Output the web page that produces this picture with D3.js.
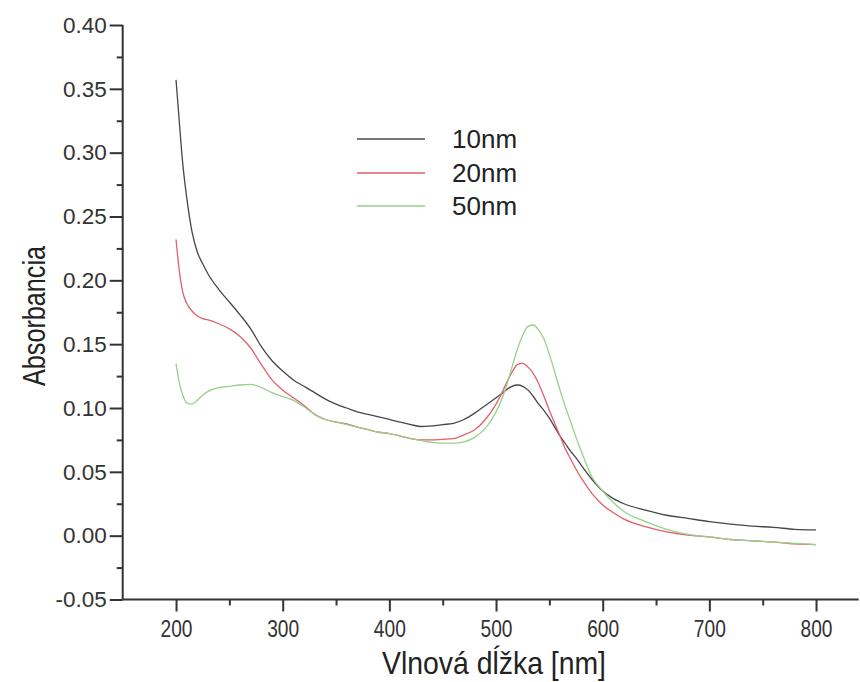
<!DOCTYPE html>
<html>
<head>
<meta charset="utf-8">
<script src="https://cdn.jsdelivr.net/npm/d3@7"></script>
<style>
  html, body { margin: 0; padding: 0; background: #fff; }
  svg { display: block; }
  .axis path, .axis line { stroke: #333; stroke-width: 2; }
  .axis text { fill: #333; font-family: "Liberation Sans", Arial, sans-serif; }
</style>
</head>
<body>
<svg id="chart" width="860" height="682"></svg>
<script>
// ---- data ----
const wavelengths = [200,203,206,210,215,220,225,230,240,250,260,270,280,290,300,310,320,330,340,350,360,370,380,390,400,410,420,430,440,450,460,470,480,490,500,505,510,515,520,525,530,535,540,545,550,555,560,565,570,575,580,590,600,610,620,640,660,680,700,720,740,760,780,800];

const abs10nm = [0.357,0.325,0.294,0.265,0.238,0.222,0.213,0.205,0.193,0.183,0.173,0.162,0.148,0.137,0.129,0.122,0.117,0.112,0.107,0.103,0.100,0.097,0.095,0.093,0.091,0.089,0.087,0.0855,0.086,0.087,0.088,0.091,0.096,0.102,0.108,0.111,0.1145,0.117,0.118,0.117,0.114,0.109,0.103,0.098,0.092,0.085,0.078,0.072,0.066,0.061,0.055,0.044,0.035,0.029,0.025,0.020,0.016,0.0135,0.011,0.009,0.0075,0.0065,0.005,0.0045];

const abs20nm = [0.232,0.208,0.192,0.182,0.176,0.172,0.170,0.169,0.166,0.162,0.156,0.147,0.134,0.122,0.114,0.108,0.102,0.095,0.091,0.089,0.0876,0.085,0.083,0.081,0.080,0.078,0.076,0.075,0.075,0.0755,0.076,0.079,0.083,0.091,0.103,0.111,0.120,0.128,0.134,0.135,0.132,0.127,0.119,0.109,0.098,0.088,0.078,0.068,0.060,0.052,0.045,0.033,0.024,0.018,0.013,0.007,0.003,0.0005,-0.001,-0.003,-0.004,-0.005,-0.0065,-0.007];

const abs50nm = [0.135,0.120,0.111,0.104,0.103,0.106,0.110,0.113,0.116,0.117,0.118,0.1185,0.116,0.112,0.109,0.106,0.101,0.095,0.091,0.089,0.087,0.085,0.083,0.081,0.080,0.078,0.076,0.0745,0.073,0.0725,0.0725,0.0735,0.077,0.084,0.097,0.106,0.118,0.132,0.146,0.157,0.164,0.165,0.161,0.154,0.142,0.128,0.114,0.101,0.089,0.077,0.066,0.046,0.035,0.026,0.019,0.011,0.005,0.001,-0.001,-0.003,-0.004,-0.005,-0.006,-0.007];

const seriesNames = ["10nm", "20nm", "50nm"];
const seriesColors = ["#474747", "#e2606a", "#98d08a"];

const xMajorTicks = [200,300,400,500,600,700,800];
const xMinorTicks = [250,350,450,550,650,750];
const yMajorTicks = [-0.05,0.00,0.05,0.10,0.15,0.20,0.25,0.30,0.35,0.40];
const yTickLabels = ["-0.05","0.00","0.05","0.10","0.15","0.20","0.25","0.30","0.35","0.40"];
const yMinorTicks = [-0.025,0.025,0.075,0.125,0.175,0.225,0.275,0.325,0.375];

const xTitle = "Vlnová dĺžka [nm]";
const yTitle = "Absorbancia";

// ---- chart ----
const svg = d3.select("#chart");
const x = d3.scaleLinear().domain([150, 840]).range([122.7, 858.7]);
const y = d3.scaleLinear().domain([-0.05, 0.40]).range([599.5, 25]);

// lines
const allSeries = [abs10nm, abs20nm, abs50nm];
const line = d3.line()
  .x(d => x(d[0]))
  .y(d => y(d[1]))
  .curve(d3.curveMonotoneX);

allSeries.forEach((vals, i) => {
  svg.append("path")
    .datum(wavelengths.map((w, j) => [w, vals[j]]))
    .attr("fill", "none")
    .attr("stroke", seriesColors[i])
    .attr("stroke-width", 1.3)
    .attr("d", line);
});

// axes
const yAxis = svg.append("g").attr("class", "axis")
  .attr("transform", `translate(${x.range()[0]},0)`)
  .call(d3.axisLeft(y).tickValues(yMajorTicks).tickSize(13).tickPadding(3)
    .tickFormat((d, i) => yTickLabels[i]));
yAxis.selectAll("text").style("font-size", "22.5px");
yAxis.select(".domain").attr("d", `M0,${y.range()[1]}V${y.range()[0]}`);

const yMinor = svg.append("g").attr("class", "axis")
  .attr("transform", `translate(${x.range()[0]},0)`)
  .call(d3.axisLeft(y).tickValues(yMinorTicks).tickSize(6).tickFormat(""));
yMinor.select(".domain").remove();

const xAxis = svg.append("g").attr("class", "axis")
  .attr("transform", `translate(0,${y.range()[0]})`)
  .call(d3.axisBottom(x).tickValues(xMajorTicks).tickSize(12).tickPadding(8)
    .tickFormat(d3.format("d")));
xAxis.selectAll("text").style("font-size", "24px")
  .attr("textLength", 32).attr("lengthAdjust", "spacingAndGlyphs");
xAxis.select(".domain").attr("d", `M${x.range()[0]},0H${x.range()[1]}`);

const xMinor = svg.append("g").attr("class", "axis")
  .attr("transform", `translate(0,${y.range()[0]})`)
  .call(d3.axisBottom(x).tickValues(xMinorTicks).tickSize(6).tickFormat(""));
xMinor.select(".domain").remove();

// titles
svg.append("text")
  .attr("x", 494).attr("y", 674)
  .attr("text-anchor", "middle")
  .attr("textLength", 224).attr("lengthAdjust", "spacingAndGlyphs")
  .style("font-family", "'Liberation Sans Narrow', 'Liberation Sans', Arial, sans-serif")
  .style("font-size", "32px").style("fill", "#222")
  .text(xTitle);

svg.append("text")
  .attr("transform", "translate(45,316) rotate(-90)")
  .attr("text-anchor", "middle")
  .attr("textLength", 140).attr("lengthAdjust", "spacingAndGlyphs")
  .style("font-family", "'Liberation Sans Narrow', 'Liberation Sans', Arial, sans-serif")
  .style("font-size", "32px").style("fill", "#222")
  .text(yTitle);

// legend
const legendY = [139, 173, 206];
seriesNames.forEach((name, i) => {
  svg.append("line")
    .attr("x1", 357).attr("x2", 425)
    .attr("y1", legendY[i]).attr("y2", legendY[i])
    .attr("stroke", seriesColors[i]).attr("stroke-width", 1.3);
  svg.append("text")
    .attr("x", 452).attr("y", legendY[i])
    .attr("dy", "0.36em")
    .style("font-family", "'Liberation Sans', Arial, sans-serif")
    .style("font-size", "26px").style("fill", "#222")
    .text(name);
});
</script>
</body>
</html>
